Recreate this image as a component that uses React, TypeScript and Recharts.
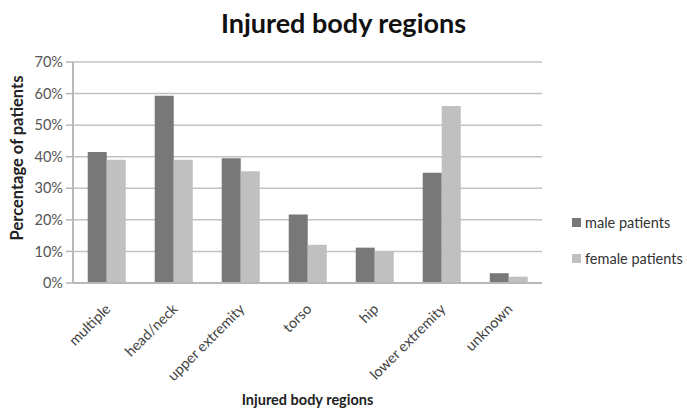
import { BarChart, Bar, XAxis, YAxis, CartesianGrid } from 'recharts';

const regions = ['multiple', 'head/neck', 'upper extremity', 'torso', 'hip', 'lower extremity', 'unknown'];
const malePatients = [41.5, 59.3, 39.5, 21.7, 11.2, 34.9, 3.1];
const femalePatients = [39.0, 39.0, 35.4, 12.1, 10.1, 56.1, 2.0];
const yTicks = [0, 10, 20, 30, 40, 50, 60, 70];

const data = regions.map((region, i) => ({
    region,
    male: malePatients[i],
    female: femalePatients[i],
}));

const font = 'Lato, "Open Sans", sans-serif';

function RegionTick({ x, y, payload }: any) {
    return (
        <text
            x={x + 5}
            y={y + 19}
            transform={`rotate(-45, ${x + 5}, ${y + 19})`}
            textAnchor="end"
            fontSize={14.5}
            fontFamily={font}
            fill="#444"
        >
            {payload.value}
        </text>
    );
}

const legendItems = [
    { label: 'male patients', color: '#787878' },
    { label: 'female patients', color: '#c0c0c0' },
];

export default function App() {
    return (
        <div style={{ position: 'fixed', left: 0, top: 0, width: 687, height: 411, background: '#fff' }}>
            <div
                style={{
                    position: 'absolute',
                    left: 0,
                    width: 687,
                    top: 9,
                    lineHeight: '27px',
                    textAlign: 'center',
                    fontFamily: font,
                    fontWeight: 700,
                    fontSize: 27,
                    color: '#111',
                }}
            >
                Injured body regions
            </div>
            <BarChart
                width={687}
                height={411}
                data={data}
                margin={{ top: 62, right: 145, bottom: 3, left: 0 }}
                barCategoryGap="22%"
                barGap={0}
            >
                <CartesianGrid vertical={false} stroke="#c2c2c2" strokeWidth={1.5} />
                <XAxis
                    dataKey="region"
                    height={125}
                    interval={0}
                    tickLine={false}
                    axisLine={{ stroke: '#b8b8b8', strokeWidth: 2 }}
                    tick={<RegionTick />}
                    label={{
                        value: 'Injured body regions',
                        position: 'insideBottom',
                        offset: 3,
                        fontFamily: font,
                        fontSize: 14.5,
                        fontWeight: 700,
                        fill: '#222',
                    }}
                />
                <YAxis
                    width={73}
                    domain={[0, 70]}
                    ticks={yTicks}
                    tickFormatter={(v: number) => `${v}%`}
                    tickSize={7}
                    tickMargin={3}
                    axisLine={{ stroke: '#b8b8b8', strokeWidth: 2 }}
                    tickLine={{ stroke: '#b8b8b8', strokeWidth: 1.5 }}
                    tick={{ fontFamily: font, fontSize: 14.5, fill: '#555' }}
                    label={{
                        content: () => (
                            <text
                                x={17}
                                y={158}
                                transform="rotate(-90, 17, 158)"
                                textAnchor="middle"
                                dominantBaseline="central"
                                fontFamily={font}
                                fontSize={16.5}
                                fontWeight={700}
                                fill="#222"
                            >
                                Percentage of patients
                            </text>
                        ),
                    }}
                />
                <Bar dataKey="male" name="male patients" fill="#787878" isAnimationActive={false} />
                <Bar dataKey="female" name="female patients" fill="#c0c0c0" isAnimationActive={false} />
            </BarChart>
            <div style={{ position: 'absolute', left: 572, top: 204, fontFamily: font, fontSize: 14.5, color: '#333' }}>
                {legendItems.map(item => (
                    <div key={item.label} style={{ display: 'flex', alignItems: 'center', height: 36 }}>
                        <span style={{ width: 9, height: 9, background: item.color, marginRight: 4, display: 'inline-block' }} />
                        {item.label}
                    </div>
                ))}
            </div>
        </div>
    );
}
